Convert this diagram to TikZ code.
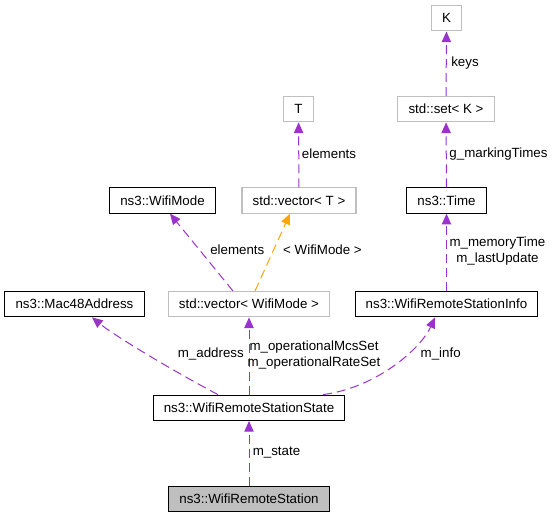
\documentclass[tikz,border=0pt]{standalone}
\usepackage{fontspec}
\setmainfont{Liberation Sans}
\usetikzlibrary{arrows.meta,positioning}
\definecolor{orchid}{HTML}{9A32CD}
\definecolor{grey75}{HTML}{BFBFBF}
\definecolor{tplorange}{HTML}{FFA500}
\begin{document}
\begin{tikzpicture}[
    x=0.75pt,y=-0.75pt,
    font=\fontsize{10}{12}\selectfont,
    cls/.style={draw=black,fill=white,line width=0.8pt,
        inner xsep=8pt,inner ysep=0pt,minimum height=19pt},
    ext/.style={cls,draw=grey75},
    cur/.style={cls,fill=grey75},
    use/.style={draw=orchid,line width=0.75pt,
        dash pattern=on 6.75pt off 3.75pt,
        -{Triangle[length=8pt,width=7pt,fill=orchid]}},
    tpl/.style={use,draw=tplorange,
        -{Triangle[length=8pt,width=7pt,fill=tplorange]}},
    lbl/.style={inner sep=0pt,align=center},
    ]
    \useasboundingbox (0,0) rectangle (553,517);
    % classes
    \node[ext] (k) at (446.5,18.3) {K};
    \node[ext] (set) at (446,109.2) {std::set< K >};
    \node[ext] (t) at (298.5,109.2) {T};
    \node[cls] (time) at (446.5,200.5) {ns3::Time};
    \node[cls] (mode) at (162.5,200.5) {ns3::WifiMode};
    \node[ext] (vect) at (299,200.5) {std::vector< T >};
    \node[cls] (mac) at (74.5,304.2) {ns3::Mac48Address};
    \node[ext] (vecmode) at (249,304.2) {std::vector< WifiMode >};
    \node[cls] (info) at (446.5,304.2) {ns3::WifiRemoteStationInfo};
    \node[cls] (state) at (249,407.8) {ns3::WifiRemoteStationState};
    \node[cur] (station) at (249,498.8) {ns3::WifiRemoteStation};
    % usage edges
    \draw[use] (station) -- (state);
    \draw[use] ([xshift=-23.25pt]state.north)
        .. controls (175,372) and (115,336) .. ([xshift=13.1pt]mac.south);
    \draw[use] (state) -- (vecmode);
    \draw[use] ([xshift=55.5pt]state.north)
        .. controls (375,388) and (420,350) .. ([xshift=-8.6pt]info.south);
    \draw[use] ([xshift=-12pt]vecmode.north) -- ([xshift=5.6pt]mode.south);
    \draw[tpl] ([xshift=4.5pt]vecmode.north) -- ([xshift=-6.75pt]vect.south);
    \draw[use] (info) -- (time);
    \draw[use] (vect) -- (t);
    \draw[use] (time) -- (set);
    \draw[use] (set) -- (k);
    % edge labels
    \node[lbl] at (276.5,452.7) {m\_state};
    \node[lbl] at (210.8,354.3) {m\_address};
    \node[lbl] at (314,355) {m\_operationalMcsSet\\m\_operationalRateSet};
    \node[lbl] at (440.7,354.3) {m\_info};
    \node[lbl] at (237.3,250) {elements};
    \node[lbl] at (322.5,250) {< WifiMode >};
    \node[lbl] at (497.5,251.2) {m\_memoryTime\\m\_lastUpdate};
    \node[lbl] at (329,154) {elements};
    \node[lbl] at (498.5,154) {g\_markingTimes};
    \node[lbl] at (465,62.7) {keys};
\end{tikzpicture}
\end{document}
